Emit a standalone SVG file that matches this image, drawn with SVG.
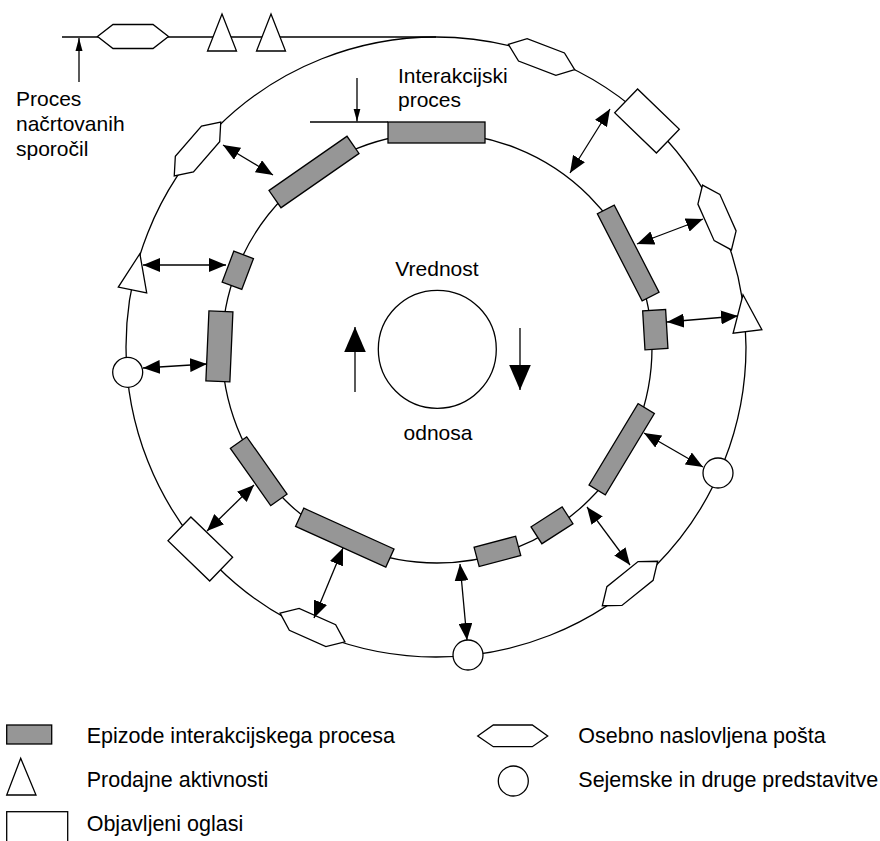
<svg xmlns="http://www.w3.org/2000/svg" width="880" height="841" viewBox="0 0 880 841">
  <style>
    .ring { fill: none; stroke: #000; stroke-width: 1.3; }
    .line { fill: none; stroke: #000; stroke-width: 1.3; }
    .ep { fill: #969696; stroke: #000; stroke-width: 1.3; }
    .wh { fill: #fff; stroke: #000; stroke-width: 1.3; }
    .lbl { font-family: "Liberation Sans", Arial, Helvetica, sans-serif; font-size: 21px; fill: #000; }
    .leg { font-size: 21.5px; }
    .mid { text-anchor: middle; }
  </style>
  <defs>
    <!-- hexagon: personally addressed mail -->
    <polygon id="hex" points="-35.5,0 -20,-12 20,-12 35.5,0 20,12 -20,12"/>
    <!-- triangle: sales activities, base centre at origin, apex up -->
    <polygon id="tri" points="0,-37 14.5,0 -14.5,0"/>
    <!-- rectangle: published ads -->
    <rect id="ad" x="-29" y="-16.5" width="58" height="33"/>
    <marker id="head" viewBox="0 -7 17 14" refX="17" refY="0" markerWidth="17" markerHeight="14" markerUnits="userSpaceOnUse" orient="auto-start-reverse">
      <path d="M0,-7 L17,0 L0,7 z" fill="#000"/>
    </marker>
    <marker id="small" viewBox="0 -4 13 8" refX="13" refY="0" markerWidth="13" markerHeight="8" markerUnits="userSpaceOnUse" orient="auto">
      <path d="M0,-3.5 L13,0 L0,3.5 z" fill="#000"/>
    </marker>
    <marker id="big" viewBox="0 -11 25 22" refX="25" refY="0" markerWidth="25" markerHeight="22" markerUnits="userSpaceOnUse" orient="auto">
      <path d="M0,-10.8 L25,0 L0,10.8 z" fill="#000"/>
    </marker>
  </defs>

  <!-- rings and the planned-messages line -->
  <g id="rings">
    <circle class="ring" cx="436" cy="347" r="310"/>
    <circle class="ring" cx="437" cy="348" r="215"/>
    <line class="line" x1="62" y1="37" x2="436" y2="37"/>
    <line class="line" x1="310" y1="122" x2="388" y2="122"/>
    <circle class="ring" cx="437.3" cy="349.3" r="59"/>
  </g>

  <!-- planned messages on the line -->
  <g id="line-hex"><use href="#hex" class="wh" transform="translate(133,36.5)"/></g>
  <g id="line-tri-1"><use href="#tri" class="wh" transform="translate(222,51)"/></g>
  <g id="line-tri-2"><use href="#tri" class="wh" transform="translate(271,51)"/></g>

  <!-- outer ring: planned communication -->
  <g id="o-hex-1"><use href="#hex" class="wh" transform="translate(541.5,57) rotate(21)"/></g>
  <g id="o-ad-1"><use href="#ad" class="wh" transform="translate(647,121) rotate(44)"/></g>
  <g id="o-hex-2"><use href="#hex" class="wh" transform="translate(717,217.5) rotate(66)"/></g>
  <g id="o-tri-1"><use href="#tri" class="wh" transform="translate(747.5,331.5) rotate(-7)"/></g>
  <g id="o-fair-1"><circle class="wh" cx="718" cy="473" r="15"/></g>
  <g id="o-hex-3"><use href="#hex" class="wh" transform="translate(630,583.5) rotate(-38.8)"/></g>
  <g id="o-fair-2"><circle class="wh" cx="468" cy="655" r="15"/></g>
  <g id="o-hex-4"><use href="#hex" class="wh" transform="translate(312.5,627.5) rotate(24)"/></g>
  <g id="o-ad-2"><use href="#ad" class="wh" transform="translate(200.3,549) rotate(44)"/></g>
  <g id="o-fair-3"><circle class="wh" cx="127.7" cy="372.3" r="15"/></g>
  <g id="o-tri-2"><use href="#tri" class="wh" transform="translate(132.5,290) rotate(11.5)"/></g>
  <g id="o-hex-5"><use href="#hex" class="wh" transform="translate(197.5,149) rotate(-49.1)"/></g>

  <!-- inner ring: interaction episodes -->
  <g id="ep-a"><rect class="ep" x="388" y="122" width="97" height="21"/></g>
  <g id="ep-b"><rect class="ep" x="-47.5" y="-10.5" width="95" height="21" transform="translate(314,172) rotate(-34.8)"/></g>
  <g id="ep-c"><rect class="ep" x="-16.5" y="-10.5" width="33" height="21" transform="translate(237.8,270.3) rotate(-69.3)"/></g>
  <g id="ep-d"><rect class="ep" x="-12" y="-35" width="24" height="70" transform="translate(219.4,346.4) rotate(2.5)"/></g>
  <g id="ep-e"><rect class="ep" x="-35" y="-10" width="70" height="20" transform="translate(258.7,471.2) rotate(54.8)"/></g>
  <g id="ep-f"><rect class="ep" x="-49.5" y="-10" width="99" height="20" transform="translate(344.8,537.7) rotate(24.3)"/></g>
  <g id="ep-g"><rect class="ep" x="-21.5" y="-10" width="43" height="20" transform="translate(497.4,551.4) rotate(-14.8)"/></g>
  <g id="ep-h"><rect class="ep" x="-18.5" y="-10" width="37" height="20" transform="translate(552,525.3) rotate(-32.8)"/></g>
  <g id="ep-i"><rect class="ep" x="-47.5" y="-9.5" width="95" height="19" transform="translate(621.7,449.3) rotate(-58.9)"/></g>
  <g id="ep-j"><rect class="ep" x="-11.5" y="-19.5" width="23" height="39" transform="translate(655.3,329.7) rotate(-3.4)"/></g>
  <g id="ep-k"><rect class="ep" x="-49" y="-9.5" width="98" height="19" transform="translate(628.2,253) rotate(62.8)"/></g>

  <!-- connectors -->
  <g id="connectors" class="line">
    <line x1="223" y1="145" x2="273" y2="175" marker-start="url(#head)" marker-end="url(#head)"/>
    <line x1="610" y1="109" x2="570" y2="173" marker-start="url(#head)" marker-end="url(#head)"/>
    <line x1="703" y1="219" x2="637" y2="244" marker-start="url(#head)" marker-end="url(#head)"/>
    <line x1="667" y1="322" x2="738" y2="316" marker-start="url(#head)" marker-end="url(#head)"/>
    <line x1="644" y1="433" x2="703" y2="467" marker-start="url(#head)" marker-end="url(#head)"/>
    <line x1="587" y1="507" x2="630" y2="565" marker-start="url(#head)" marker-end="url(#head)"/>
    <line x1="460" y1="564" x2="467" y2="640" marker-start="url(#head)" marker-end="url(#head)"/>
    <line x1="343" y1="548" x2="314" y2="618" marker-start="url(#head)" marker-end="url(#head)"/>
    <line x1="254" y1="485" x2="207" y2="531" marker-start="url(#head)" marker-end="url(#head)"/>
    <line x1="143" y1="368" x2="207" y2="364" marker-start="url(#head)" marker-end="url(#head)"/>
    <line x1="143" y1="265" x2="226" y2="265" marker-start="url(#head)" marker-end="url(#head)"/>
    <line x1="79" y1="82" x2="79" y2="38" marker-end="url(#small)"/>
    <line x1="357" y1="78" x2="357" y2="121.5" marker-end="url(#small)"/>
    <line x1="355" y1="392" x2="355" y2="327" marker-end="url(#big)"/>
    <line x1="520" y1="328" x2="520" y2="390" marker-end="url(#big)"/>
  </g>

  <!-- labels -->
  <g id="labels" class="lbl">
    <text x="16" y="106">Proces</text>
    <text x="16" y="131">načrtovanih</text>
    <text x="16" y="156">sporočil</text>
    <text x="398" y="83">Interakcijski</text>
    <text x="398" y="107">proces</text>
    <text class="mid" x="437" y="276">Vrednost</text>
    <text class="mid" x="438" y="440">odnosa</text>
  </g>

  <!-- legend -->
  <g id="legend">
    <g id="lg-episode">
      <rect class="ep" x="6.7" y="725" width="45" height="19"/>
      <text class="lbl leg" x="86.7" y="743.3">Epizode interakcijskega procesa</text>
    </g>
    <g id="lg-sales">
      <polygon class="wh" points="20.7,758.3 36,795 6.7,795"/>
      <text class="lbl leg" x="86.7" y="787.3">Prodajne aktivnosti</text>
    </g>
    <g id="lg-ads">
      <rect class="wh" x="6.7" y="811.7" width="61" height="40"/>
      <text class="lbl leg" x="86.7" y="830.7">Objavljeni oglasi</text>
    </g>
    <g id="lg-mail">
      <polygon class="wh" points="477.7,736 493.3,725 532.3,725 547.7,736 532.3,746.7 493.3,746.7"/>
      <text class="lbl leg" x="578.3" y="743.3">Osebno naslovljena pošta</text>
    </g>
    <g id="lg-fair">
      <circle class="wh" cx="513.3" cy="781" r="15"/>
      <text class="lbl leg" x="578.3" y="787.3">Sejemske in druge predstavitve</text>
    </g>
  </g>
</svg>
